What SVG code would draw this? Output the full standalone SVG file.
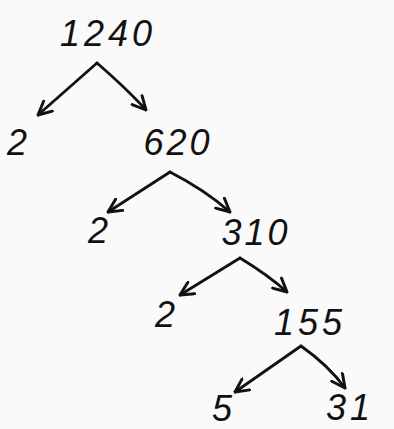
<svg xmlns="http://www.w3.org/2000/svg" width="394" height="429" viewBox="0 0 394 429">
<defs>
<marker id="ah" viewBox="0 0 12 12" refX="11" refY="6" markerWidth="16" markerHeight="16" markerUnits="userSpaceOnUse" orient="auto">
<path d="M1,1 L11,6 L1,11" fill="none" stroke="#111" stroke-width="2.2" stroke-linecap="round" stroke-linejoin="round"/>
</marker>
<style>
.n{font-family:"Liberation Sans",Arial,sans-serif;font-size:36px;fill:#111;text-anchor:middle;font-style:italic}
.c{fill:none;stroke:#111;stroke-width:2.8;stroke-linecap:round;marker-end:url(#ah)}
</style>
</defs>
<rect width="394" height="429" fill="#fbfafa"/>
<g id="n1240"><text class="n" x="108" y="46" letter-spacing="4">1240</text></g>
<g id="n2a"><text class="n" x="17" y="155">2</text></g>
<g id="n620"><text class="n" x="178" y="155" letter-spacing="3">620</text></g>
<g id="n2b"><text class="n" x="98" y="243">2</text></g>
<g id="n310"><text class="n" x="256" y="245" letter-spacing="3">310</text></g>
<g id="n2c"><text class="n" x="165" y="327">2</text></g>
<g id="n155"><text class="n" x="310" y="335" letter-spacing="4">155</text></g>
<g id="n5"><text class="n" x="222" y="421">5</text></g>
<g id="n31"><text class="n" x="350" y="420" letter-spacing="4">31</text></g>
<g id="connectors">
<path class="c" d="M97,63 L38,115"/>
<path class="c" d="M97,63 Q128,90 146,110"/>
<path class="c" d="M170,172 L108,212"/>
<path class="c" d="M170,172 Q205,190 230,212"/>
<path class="c" d="M240,258 L180,295"/>
<path class="c" d="M240,258 Q268,275 287,292"/>
<path class="c" d="M301,346 L235,392"/>
<path class="c" d="M301,346 Q328,365 345,388"/>
</g>
</svg>
